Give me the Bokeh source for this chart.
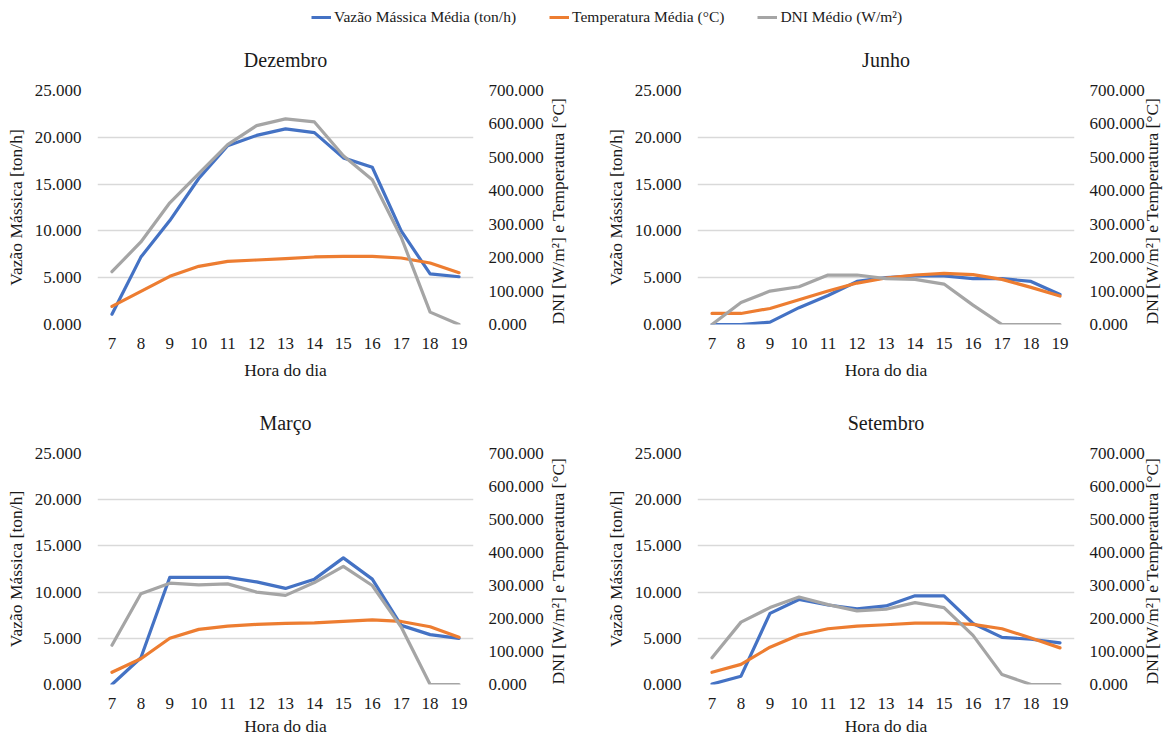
import math
from bokeh.plotting import figure
from bokeh.models import Range1d, LinearAxis, FixedTicker, NumeralTickFormatter, Legend, LegendItem
from bokeh.layouts import column, row
from bokeh.embed import file_html
from bokeh.resources import INLINE

# ---------------- data ----------------
hours = [7, 8, 9, 10, 11, 12, 13, 14, 15, 16, 17, 18, 19]

months = ["Dezembro", "Junho", "Março", "Setembro"]

vazao_dez = [1.1, 7.2, 11.1, 15.6, 19.1, 20.2, 20.9, 20.5, 17.8, 16.8, 10.0, 5.4, 5.1]
temp_dez = [54, 99, 144, 174, 189, 193, 197, 202, 204, 204, 199, 184, 155]
dni_dez = [158, 247, 364, 451, 538, 595, 615, 606, 505, 433, 261, 37, 0]

vazao_jun = [0.0, 0.0, 0.25, 1.8, 3.1, 4.6, 5.0, 5.2, 5.2, 4.9, 4.9, 4.6, 3.2]
temp_jun = [33, 33, 48, 74, 100, 124, 139, 148, 153, 149, 135, 111, 85]
dni_jun = [0, 66, 100, 113, 148, 148, 137, 135, 121, 58, 0, 0, 0]

vazao_mar = [0.0, 2.9, 11.6, 11.6, 11.6, 11.1, 10.4, 11.4, 13.7, 11.4, 6.4, 5.4, 5.0]
temp_mar = [37, 78, 140, 167, 177, 182, 185, 187, 191, 196, 191, 175, 143]
dni_mar = [119, 275, 307, 302, 305, 280, 270, 309, 358, 300, 174, 0, 0]

vazao_set = [0.05, 0.9, 7.7, 9.2, 8.6, 8.2, 8.5, 9.6, 9.6, 6.6, 5.1, 4.9, 4.5]
temp_set = [37, 61, 113, 150, 169, 177, 181, 186, 186, 182, 169, 141, 111]
dni_set = [81, 189, 233, 265, 242, 223, 228, 248, 233, 149, 30, 0, 0]

left_ticks = [0, 5, 10, 15, 20, 25]
right_ticks = [0, 100, 200, 300, 400, 500, 600, 700]

series_names = ["Vazão Mássica Média (ton/h)", "Temperatura Média (°C)", "DNI Médio (W/m²)"]
colors = ["#4472C4", "#ED7D31", "#A5A5A5"]

left_label = "Vazão Mássica [ton/h]"
right_label = "DNI [W/m²] e Temperatura [°C]"
x_label = "Hora do dia"

FONT = "Liberation Serif"
TXT = "#1a1a1a"


def style_axis(ax, size="17px"):
    ax.axis_line_color = None
    ax.major_tick_line_color = None
    ax.minor_tick_line_color = None
    ax.major_tick_out = 0
    ax.major_tick_in = 0
    ax.minor_tick_out = 0
    ax.minor_tick_in = 0
    ax.major_label_text_font = FONT
    ax.major_label_text_font_size = size
    ax.major_label_text_color = TXT
    ax.axis_label_text_font = FONT
    ax.axis_label_text_font_size = "17.5px"
    ax.axis_label_text_font_style = "normal"
    ax.axis_label_text_color = TXT


def panel(title, vaz, tmp, dni, width, height, bl, br, bt, bb, title_standoff, r_title_standoff, x_title_standoff):
    p = figure(width=width, height=height, x_range=Range1d(6.5, 19.5), y_range=Range1d(0, 25),
               output_backend="svg", toolbar_location=None,
               min_border_left=bl, min_border_right=br, min_border_top=bt, min_border_bottom=bb)
    p.extra_y_ranges = {"right": Range1d(0, 700)}
    p.outline_line_color = None
    p.background_fill_color = "white"
    p.border_fill_color = "white"

    p.title.text = title
    p.title.align = "center"
    p.title.text_font = FONT
    p.title.text_font_size = "20px"
    p.title.text_font_style = "normal"
    p.title.text_color = TXT
    p.title.standoff = title_standoff

    p.xaxis.ticker = FixedTicker(ticks=hours)
    p.xaxis.axis_label = x_label
    p.xaxis.major_label_standoff = 13
    p.xaxis.axis_label_standoff = x_title_standoff
    style_axis(p.xaxis[0])

    p.yaxis.ticker = FixedTicker(ticks=left_ticks)
    p.yaxis.formatter = NumeralTickFormatter(format="0.000")
    p.yaxis.axis_label = left_label
    p.yaxis.major_label_standoff = 16
    p.yaxis.axis_label_standoff = 6
    style_axis(p.yaxis[0])

    ax_r = LinearAxis(y_range_name="right", ticker=FixedTicker(ticks=right_ticks),
                      formatter=NumeralTickFormatter(format="0.000"), axis_label=right_label)
    ax_r.major_label_standoff = 15
    ax_r.axis_label_standoff = r_title_standoff
    style_axis(ax_r)
    ax_r.axis_label_orientation = math.pi / 2
    ax_r.axis_label_align = "start"
    p.add_layout(ax_r, "right")

    p.xgrid.visible = False
    p.ygrid.ticker = FixedTicker(ticks=left_ticks)
    p.ygrid.grid_line_color = "#D9D9D9"
    p.ygrid.grid_line_width = 1.3

    p.line(hours, vaz, color=colors[0], line_width=3.2, line_join="round", line_cap="round")
    p.line(hours, tmp, y_range_name="right", color=colors[1], line_width=3.2, line_join="round", line_cap="round")
    p.line(hours, dni, y_range_name="right", color=colors[2], line_width=3.2, line_join="round", line_cap="round")
    return p


# legend strip
lg = figure(width=1176, height=26, x_range=Range1d(0, 1), y_range=Range1d(0, 1),
            output_backend="svg", toolbar_location=None, min_border=0)
lg.axis.visible = False
lg.grid.visible = False
lg.outline_line_color = None
rs = [lg.line(x=[-10, -9], y=[-10, -9], color=c, line_width=3) for c in colors]
legend = Legend(items=[LegendItem(label=n, renderers=[r]) for n, r in zip(series_names, rs)],
                orientation="horizontal", location=(311, 0), border_line_color=None,
                background_fill_alpha=0, label_text_font=FONT, label_text_font_size="15.5px",
                label_text_color=TXT, glyph_width=20, glyph_height=14, label_standoff=3,
                spacing=33, padding=0, margin=0)
lg.add_layout(legend, "center")

p1 = panel(months[0], vazao_dez, temp_dez, dni_dez, 600, 360, 97, 127, 64, 62, 40, 11, 8)
p2 = panel(months[1], vazao_jun, temp_jun, dni_jun, 576, 360, 97, 102, 64, 62, 40, 4, 8)
p3 = panel(months[2], vazao_mar, temp_mar, dni_mar, 600, 352, 97, 127, 67, 54, 40, 11, 4)
p4 = panel(months[3], vazao_set, temp_set, dni_set, 576, 352, 97, 102, 67, 54, 40, 4, 4)

layout = column(lg, row(p1, p2), row(p3, p4))
open("out.html", "w").write(file_html(layout, INLINE))
